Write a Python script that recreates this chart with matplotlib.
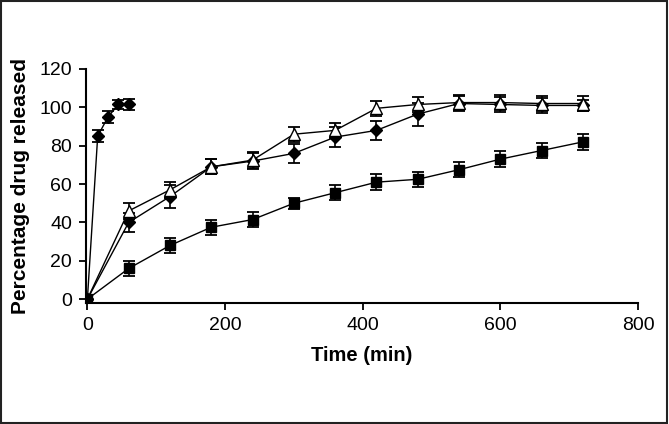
import matplotlib
matplotlib.use("Agg")
import matplotlib.pyplot as plt
from matplotlib.patches import Rectangle

plt.rcParams["font.family"] = ["Liberation Sans", "DejaVu Sans"]

# fast-release series (filled diamonds)
t_fast = [0, 15, 30, 45, 60]
fast = [0, 85, 95, 101.5, 101.5]
fast_err = [1.5, 3, 3, 2.5, 3]

# slower series share the sampling times
t_slow = [0, 60, 120, 180, 240, 300, 360, 420, 480, 540, 600, 660, 720]
tri = [0, 46, 57, 69, 72.5, 86, 88, 99.5, 101.5, 102.5, 102.5, 102, 102]
tri_err = [1.5, 4, 4, 4, 4, 4, 4, 4, 4, 4, 4, 4, 4]
dia = [0, 40, 53.5, 69, 72, 76, 84.5, 88, 96.5, 102, 101.5, 101, 101]
dia_err = [1.5, 5, 6, 4, 4, 5, 5, 5, 6, 4, 4, 4, 3]
sq = [0, 16, 28, 37.5, 41.5, 50, 55.5, 61, 62.5, 67.5, 73, 77.5, 82]
sq_err = [1.5, 4, 4, 4, 4, 3, 4, 4, 4, 4, 4, 4, 4]

fig = plt.figure(figsize=(6.69, 4.24), dpi=100)
ax = fig.add_axes([86 / 669, 121 / 424, 552 / 669, 234 / 424])

common = dict(color="black", linewidth=1.0, capsize=4.5, elinewidth=1.2,
              capthick=1.3, markeredgecolor="black")
ax.errorbar(t_slow, sq, yerr=sq_err, marker="s", markersize=7,
            markerfacecolor="black", **common)
ax.errorbar(t_slow, dia, yerr=dia_err, marker="D", markersize=6,
            markerfacecolor="black", **common)
ax.errorbar(t_slow, tri, yerr=tri_err, marker="^", markersize=8,
            markerfacecolor="white", **common)
ax.errorbar(t_fast, fast, yerr=fast_err, marker="D", markersize=6.5,
            markerfacecolor="black", **common)

ax.set_xlim(-2, 800)
ax.set_ylim(-2, 120)
ax.set_xticks([0, 200, 400, 600, 800])
ax.set_yticks([0, 20, 40, 60, 80, 100, 120])
ax.tick_params(direction="out", length=5, width=1.3, labelsize=14,
               pad=5)
for side in ("top", "right"):
    ax.spines[side].set_visible(False)
for side in ("left", "bottom"):
    ax.spines[side].set_linewidth(1.5)

ax.set_xlabel("Time (min)", fontsize=14.5, fontweight="bold", labelpad=9)
ax.set_ylabel("Percentage drug released", fontsize=15, fontweight="bold",
              labelpad=7)

# thin frame around the whole picture
fig.patches.append(Rectangle((0.002, 0.002), 0.995, 0.995,
                             transform=fig.transFigure, fill=False,
                             edgecolor="#222222", linewidth=1.5))

fig.savefig("out.png", dpi=100)
